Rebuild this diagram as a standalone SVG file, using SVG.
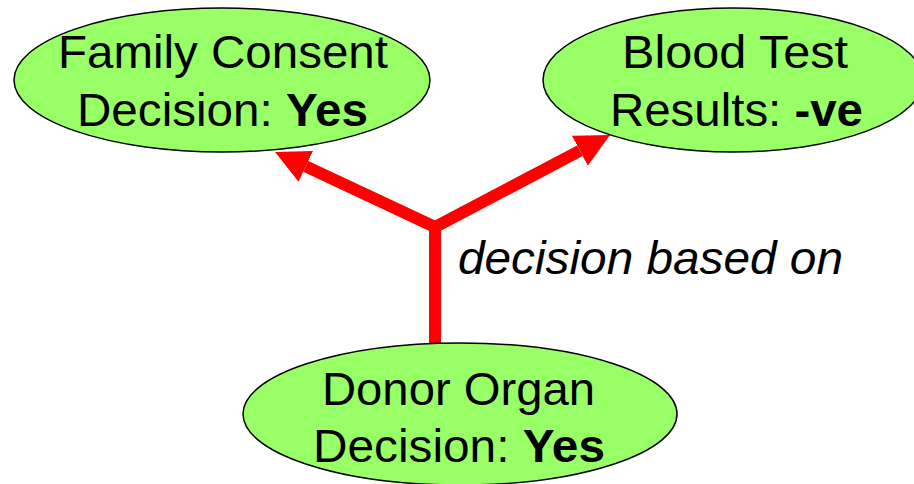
<svg xmlns="http://www.w3.org/2000/svg" width="914" height="484" viewBox="0 0 914 484">
<style>
.node ellipse{fill:#99ff66;stroke:#000;stroke-width:1.5}
.node text{font-family:"Liberation Sans",Arial,sans-serif;font-size:46px;fill:#000;text-anchor:middle}
.b{font-weight:bold}
.conn{fill:none;stroke:#ff0000;stroke-width:12;stroke-linejoin:miter}
.lbl{font-family:"Liberation Sans",Arial,sans-serif;font-size:46px;font-style:italic;fill:#000}
</style>
<defs>
<marker id="ah" markerUnits="userSpaceOnUse" markerWidth="36" markerHeight="36" refX="0" refY="17" orient="auto-start-reverse" viewBox="0 0 36 36">
<path d="M0,0 L34,17 L0,34 z" fill="#ff0000"/>
</marker>
</defs>
<rect width="914" height="484" fill="#fff"/>
<g id="connectors">
<polyline class="conn" points="305.8,166.4 435,227 579.9,150.8" marker-start="url(#ah)" marker-end="url(#ah)"/>
<path class="conn" d="M435,343 L435,226"/>
<text class="lbl" x="458" y="274" textLength="385" lengthAdjust="spacingAndGlyphs">decision based on</text>
</g>
<g id="family" class="node">
<ellipse cx="222" cy="80" rx="208" ry="72"/>
<text x="223" y="68" textLength="330" lengthAdjust="spacingAndGlyphs">Family Consent</text>
<text x="222.5" y="126" textLength="291" lengthAdjust="spacingAndGlyphs">Decision: <tspan class="b">Yes</tspan></text>
</g>
<g id="blood" class="node">
<ellipse cx="733" cy="80" rx="190" ry="72"/>
<text x="735" y="68" textLength="226" lengthAdjust="spacingAndGlyphs">Blood Test</text>
<text x="736.5" y="126" textLength="253" lengthAdjust="spacingAndGlyphs">Results: <tspan class="b">-ve</tspan></text>
</g>
<g id="donor" class="node">
<ellipse cx="460" cy="414" rx="217" ry="71"/>
<text x="458.5" y="405" textLength="273" lengthAdjust="spacingAndGlyphs">Donor Organ</text>
<text x="459" y="462" textLength="292" lengthAdjust="spacingAndGlyphs">Decision: <tspan class="b">Yes</tspan></text>
</g>
</svg>
